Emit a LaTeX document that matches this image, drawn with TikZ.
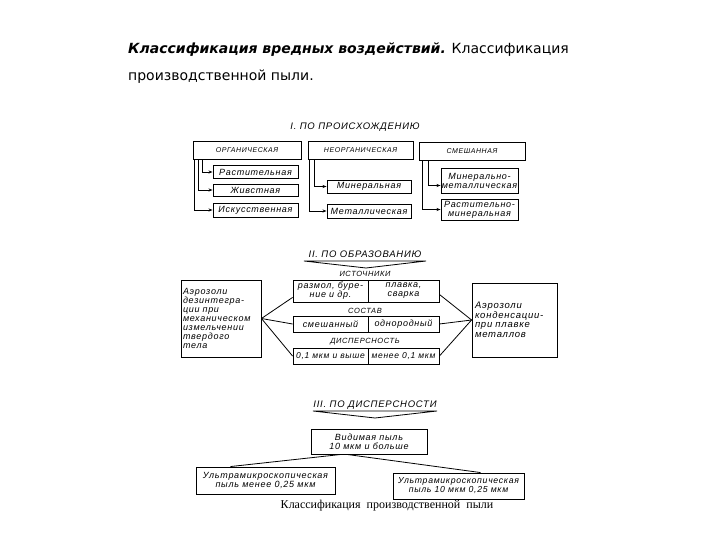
\documentclass[tikz,border=0pt]{standalone}
\usepackage{fontspec}
\setmainfont{Liberation Sans}
\newfontfamily\titlefont{DejaVu Sans}
\newfontfamily\capfont{Liberation Serif}
\newfontfamily\dfont[LetterSpace=8]{Liberation Sans}
\usetikzlibrary{arrows.meta}
\begin{document}
\begin{tikzpicture}[x=1pt,y=-1pt,
  box/.style={draw, line width=0.9pt, inner sep=0pt, align=center, font=\dfont\itshape\fontsize{9}{9}\selectfont},
  capbox/.style={box, font=\dfont\itshape\fontsize{7}{7}\selectfont},
  hdr/.style={inner sep=0pt, font=\dfont\itshape\fontsize{9.5}{10}\selectfont},
  sub/.style={inner sep=0pt, font=\dfont\itshape\fontsize{7.5}{8}\selectfont},
  arr/.style={-{Stealth[length=4pt,width=3pt]}, line width=0.7pt},
  ln/.style={line width=0.8pt}]
\useasboundingbox (0,0) rectangle (720,540);
% title
\node[anchor=base west, inner sep=0pt, font=\titlefont\fontsize{14}{16}\selectfont] (t1) at (128,54) {{\bfseries\itshape Классификация вредных воздействий.} Классификация};
\node[anchor=base west, inner sep=0pt, font=\titlefont\fontsize{14}{16}\selectfont] (t2) at (128,81) {производственной пыли.};

% Section I
\node[hdr] (h1) at (355,127) {I. ПО ПРОИСХОЖДЕНИЮ};
\node[capbox, minimum width=108pt, minimum height=18pt] (org) at (247,150) {ОРГАНИЧЕСКАЯ};
\node[capbox, minimum width=105pt, minimum height=18pt] (neorg) at (360.5,150) {НЕОРГАНИЧЕСКАЯ};
\node[capbox, minimum width=106pt, minimum height=18pt] (smesh) at (472,151) {СМЕШАННАЯ};
\node[box, minimum width=85pt, minimum height=13pt] (rast) at (255.5,172) {Растительная};
\node[box, minimum width=85pt, minimum height=12pt] (zhiv) at (255.5,190) {Живстная};
\node[box, minimum width=85pt, minimum height=14pt] (isk) at (255.5,210) {Искусственная};
\node[box, minimum width=84pt, minimum height=13pt] (miner) at (369,186.5) {Минеральная};
\node[box, minimum width=84pt, minimum height=14pt] (metal) at (369,211) {Металлическая};
\node[box, minimum width=77pt, minimum height=25pt] (mm) at (479.5,180.5) {Минерально-\\металлическая};
\node[box, minimum width=77pt, minimum height=21pt] (rm) at (479.5,209.5) {Растительно-\\минеральная};
\draw[arr] ([xshift=10pt]org.south west) |- (rast.west);
\draw[arr] ([xshift=6pt]org.south west) |- (zhiv.west);
\draw[arr] ([xshift=1.5pt]org.south west) |- (isk.west);
\draw[arr] ([xshift=7pt]neorg.south west) |- (miner.west);
\draw[arr] ([xshift=1.5pt]neorg.south west) |- (metal.west);
\draw[arr] ([xshift=10pt]smesh.south west) |- ([yshift=-5pt]mm.west);
\draw[arr] ([xshift=4pt]smesh.south west) |- (rm.west);

% Section II
\node[hdr] (h2) at (365,254) {II. ПО ОБРАЗОВАНИЮ};
\draw[ln] (304,261) -- (426,261) -- (366,268) -- cycle;
\node[sub] (ist) at (365,274) {ИСТОЧНИКИ};
\node[box, minimum width=75pt, minimum height=22pt] (r1l) at (330.5,291) {размол, буре-\\ние и др.};
\node[box, minimum width=71pt, minimum height=22pt] (r1r) at (403.5,291) {плавка,\\сварка};
\node[sub] (sost) at (365,311) {СОСТАВ};
\node[box, minimum width=75pt, minimum height=16pt] (r2l) at (330.5,324) {смешанный};
\node[box, minimum width=71pt, minimum height=16pt] (r2r) at (403.5,324) {однородный};
\node[sub] (disp) at (365,342) {ДИСПЕРСНОСТЬ};
\node[box, minimum width=75pt, minimum height=16pt, font=\dfont\itshape\fontsize{8.5}{9}\selectfont] (r3l) at (330.5,356) {0,1 мкм и выше};
\node[box, minimum width=71pt, minimum height=16pt, font=\dfont\itshape\fontsize{8.5}{9}\selectfont] (r3r) at (403.5,356) {менее 0,1 мкм};
\node[box, minimum width=80pt, minimum height=77pt, text width=76pt, align=left, font=\dfont\itshape\fontsize{9}{9}\selectfont] (L) at (221,318.5) {Аэрозоли\\дезинтегра-\\ции при\\механическом\\измельчении\\твердого\\тела};
\node[box, minimum width=85pt, minimum height=74pt, text width=79pt, align=left, font=\dfont\itshape\fontsize{9.5}{9.5}\selectfont] (R) at (514.5,320) {Аэрозоли\\конденсации-\\при плавке\\металлов\\[22pt]};
\draw[ln] (L.east) -- ([yshift=5pt]r1l.south west);
\draw[ln] (L.east) -- (r2l.west);
\draw[ln] (L.east) -- (r3l.west);
\draw[ln] (R.west) -- ([yshift=8pt]r1r.south east);
\draw[ln] (R.west) -- (r2r.east);
\draw[ln] (R.west) -- (r3r.east);

% Section III
\node[hdr] (h3) at (375,405) {III. ПО ДИСПЕРСНОСТИ};
\draw[ln] (313,411) -- (437,411) -- (375,418) -- cycle;
\node[box, minimum width=116pt, minimum height=25pt] (vid) at (369,441.5) {Видимая пыль\\10 мкм и больше};
\node[box, minimum width=139pt, minimum height=27pt] (u1) at (265.5,480.5) {Ультрамикроскопическая\\пыль менее 0,25 мкм};
\node[box, minimum width=131pt, minimum height=26pt, font=\dfont\itshape\fontsize{8.7}{9}\selectfont] (u2) at (458.5,486) {Ультрамикроскопическая\\пыль 10 мкм 0,25 мкм};
\draw[ln] ([xshift=-28pt]vid.south) -- ([xshift=-35pt]u1.north);
\draw[ln] ([xshift=-22pt]vid.south) -- ([xshift=22pt]u2.north);
\node[inner sep=0pt, font=\capfont\fontsize{12}{13}\selectfont] (cap) at (387,506) {Классификация\ \ производственной\ \ пыли};
\end{tikzpicture}
\end{document}
